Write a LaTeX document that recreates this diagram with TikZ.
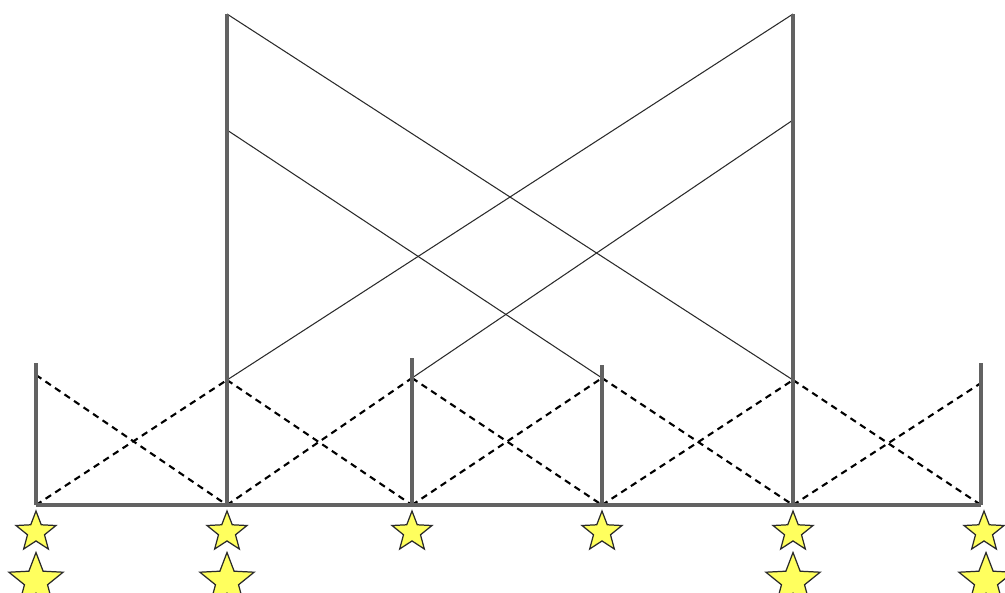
\documentclass[tikz,border=0pt]{standalone}
\usetikzlibrary{shapes.geometric}
\definecolor{postcol}{HTML}{626262}
\definecolor{bracecol}{HTML}{2A2A2A}
\definecolor{starcol}{HTML}{FFFF5E}

\begin{document}
\begin{tikzpicture}[
  x=0.2mm, y=-0.2mm, line cap=butt, line join=miter,
  post/.style={postcol, line width=2.5pt},
  brace/.style={bracecol, line width=0.6pt},
  cross/.style={black, line width=1.2pt, dash pattern=on 1.3mm off 1mm},
  pin/.style={star, star points=5, star point ratio=2.35, draw=bracecol,
    fill=starcol, line width=0.7pt, inner sep=0pt, minimum size=8.4mm},
  bigpin/.style={pin, minimum size=11.4mm}]
\useasboundingbox (0,0) rectangle (1005,592);

% ============================================== frame points
\coordinate (b1) at (36,505);  \coordinate (t1) at (36,363);  \coordinate (d1) at (36,375);
\coordinate (b2) at (227,505); \coordinate (t2) at (227,14);  \coordinate (d2) at (227,380);
\coordinate (b3) at (412,505); \coordinate (t3) at (412,358); \coordinate (d3) at (412,378);
\coordinate (b4) at (602,505); \coordinate (t4) at (602,365); \coordinate (d4) at (602,378);
\coordinate (b5) at (793,505); \coordinate (t5) at (793,14);  \coordinate (d5) at (793,380);
\coordinate (b6) at (981,505); \coordinate (t6) at (981,363); \coordinate (d6) at (981,383);
\coordinate (m2) at (227,130); \coordinate (m5) at (793,120);

% ============================================== dashed bracing in each bay
\foreach \i/\j in {1/2,2/3,3/4,4/5,5/6} {
  \draw[cross] (d\i) -- (b\j);
  \draw[cross] (b\i) -- (d\j);
}

% ============================================== long diagonals
\draw[brace] (t2) -- (d5);
\draw[brace] (m2) -- (d4);
\draw[brace] (t5) -- (d2);
\draw[brace] (m5) -- (d3);

% ============================================== posts and base
\foreach \i in {1,...,6} \draw[post] (b\i) -- (t\i);
\draw[post] (b1) -- (b6);

% ============================================== supports
\foreach \i/\x in {1/36,2/227,3/412,4/602,5/793,6/984}
  \node[pin] (s\i) at (\x,532) {};
\foreach \i/\x in {1/36,2/227,5/793,6/986}
  \node[bigpin] (S\i) at (\x,581) {};

\end{tikzpicture}
\end{document}
